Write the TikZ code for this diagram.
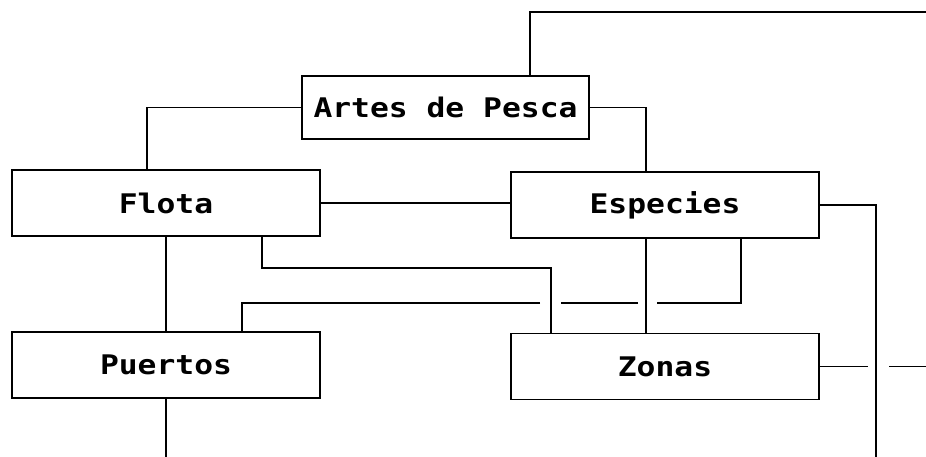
\documentclass[tikz,border=0pt]{standalone}
\usepackage{fontspec}
\newfontfamily\boxfont[FakeStretch=1.16]{DejaVu Sans Mono Bold}
\begin{document}
\begin{tikzpicture}[x=1pt,y=1pt,
  boxnode/.style={draw, line width=1.3pt, rectangle, inner sep=0pt,
    minimum width=308pt, minimum height=66pt,
    font=\boxfont\fontsize{27}{30}\selectfont},
  conn/.style={line width=1.2pt}]
\useasboundingbox (0,0) rectangle (926,457);
% boxes
\node[boxnode, minimum width=287pt, minimum height=63pt] (artes) at (445.5,349.5) {Artes de Pesca};
\node[boxnode] (flota) at (166,254) {Flota};
\node[boxnode] (especies) at (665,252) {Especies};
\node[boxnode] (puertos) at (166,92) {Puertos};
\node[boxnode] (zonas) at (665,90.5) {Zonas};
% free ends
\coordinate (topR) at (926,445);
\coordinate (botR) at (876,0);
\coordinate (botL) at (166,0);
\coordinate (j1) at (551,189);
\coordinate (g1) at (657,154);
\coordinate (g2) at (638,154);
\coordinate (g3) at (561,154);
\coordinate (g4) at (540,154);
\coordinate (z1) at (868,90.5);
\coordinate (z2) at (889,90.5);
\coordinate (z3) at (926,90.5);
% connectors
\draw[conn] ([xshift=84.5pt]artes.north) |- (topR);
\draw[conn] (artes.west) -| ([xshift=-19pt]flota.north);
\draw[conn] (artes.east) -| ([xshift=-19pt]especies.north);
\draw[conn] (flota.east) -- (flota.east -| especies.west);
\draw[conn] (especies.east) -| (botR);
\draw[conn] (flota.south) -- (puertos.north);
\draw[conn] ([xshift=96pt]flota.south) |- (j1) -- ([xshift=-114pt]zonas.north);
\draw[conn] ([xshift=-19pt]especies.south) -- ([xshift=-19pt]zonas.north);
\draw[conn] ([xshift=76pt]especies.south) |- (g1);
\draw[conn] (g2) -- (g3);
\draw[conn] (g4) -| ([xshift=76pt]puertos.north);
\draw[conn] (puertos.south) -- (botL);
\draw[conn] (zonas.east) -- (z1);
\draw[conn] (z2) -- (z3);
\end{tikzpicture}
\end{document}
